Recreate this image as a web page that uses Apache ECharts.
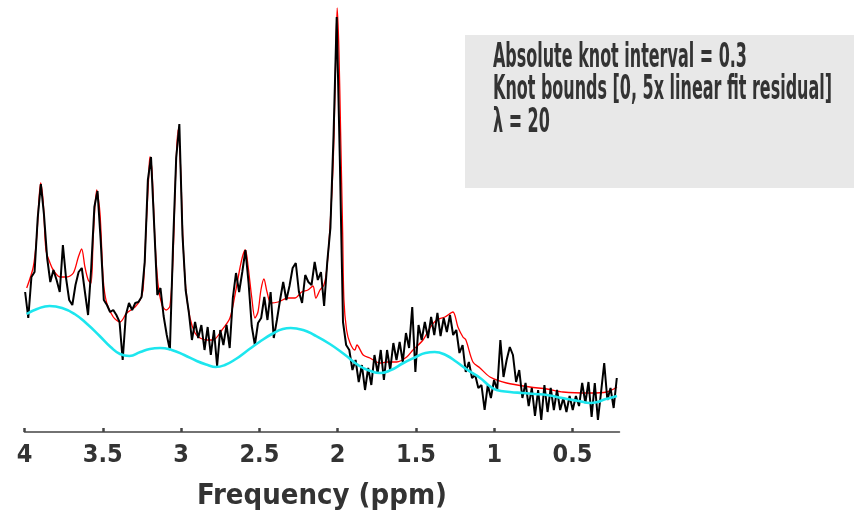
<!DOCTYPE html>
<html>
<head>
<meta charset="utf-8">
<script src="https://cdn.jsdelivr.net/npm/echarts@6/dist/echarts.min.js"></script>
<style>html,body{margin:0;padding:0;background:#fff}#c{width:854px;height:518px}</style>
</head>
<body>
<div id="c"></div>
<script>
// Tick labels (ppm)
const tickValues = [4, 3.5, 3, 2.5, 2, 1.5, 1, 0.5];

// Measured spectrum (black), sampled on a regular ppm grid
const dataStartPpm = 3.996;
const dataStepPpm = 0.0201;
const dataValues = [
140,114,155,160,214,248,217,174,150,162,152,140,187,154,132,127,147,160,164,140,
117,164,225,241,192,132,127,120,122,117,110,72,117,129,122,129,130,135,170,252,
275,207,137,144,116,97,82,187,274,308,197,142,120,92,110,94,107,82,105,77,
102,66,102,87,107,84,134,159,140,160,182,149,106,87,109,114,135,112,140,94,
112,132,150,132,146,164,169,140,129,157,150,147,170,152,160,126,170,204,297,415,
272,110,87,82,62,72,50,67,42,64,47,77,59,82,52,82,62,89,72,90,
70,99,84,125,60,107,92,110,94,115,97,119,96,114,100,117,97,102,79,87,
60,70,54,57,44,47,22,47,34,52,42,92,55,72,85,77,50,62,34,49,
26,44,16,42,12,47,20,44,22,42,22,34,20,36,22,36,26,49,29,50,
15,49,12,40,69,32,44,24,54
];

// Fitted spectrum (red): [ppm, intensity]
const fitPoints = [
[3.986,144],[3.944,165],[3.922,195],[3.897,249],[3.880,229],[3.863,182],[3.837,169],[3.816,162],
[3.773,155],[3.731,155],[3.688,159],[3.656,175],[3.635,183],[3.614,165],[3.593,152],[3.575,149],
[3.561,195],[3.539,242],[3.518,219],[3.497,152],[3.475,129],[3.433,115],[3.390,110],[3.347,119],
[3.294,125],[3.262,132],[3.243,142],[3.224,202],[3.208,252],[3.199,275],[3.186,262],[3.167,192],
[3.148,149],[3.122,127],[3.096,122],[3.071,126],[3.052,172],[3.036,252],[3.020,302],[3.004,267],
[2.988,192],[2.969,142],[2.943,114],[2.911,99],[2.879,94],[2.835,92],[2.796,92],[2.739,102],
[2.688,114],[2.656,137],[2.624,164],[2.605,177],[2.589,182],[2.573,167],[2.549,135],[2.528,114],
[2.509,120],[2.490,142],[2.471,153],[2.451,140],[2.426,129],[2.381,130],[2.317,134],[2.273,134],
[2.230,140],[2.190,142],[2.158,146],[2.139,134],[2.113,142],[2.088,147],[2.070,162],[2.049,205],
[2.028,272],[2.014,362],[2.003,424],[1.992,382],[1.981,299],[1.968,199],[1.960,132],[1.943,102],
[1.921,89],[1.890,82],[1.877,87],[1.837,77],[1.794,74],[1.730,69],[1.685,70],[1.623,70],
[1.559,75],[1.519,82],[1.455,92],[1.411,104],[1.368,112],[1.315,115],[1.264,120],[1.232,105],
[1.200,95],[1.181,92],[1.136,70],[1.091,64],[1.027,55],[0.921,49],[0.772,45],[0.663,43],
[0.561,40],[0.389,39],[0.282,40],[0.216,45]
];

// Baseline (cyan): [ppm, intensity]
const baselinePoints = [
[3.986,118],[3.92,123],[3.84,126],[3.76,124],[3.68,118],[3.6,108],[3.52,96],[3.45,85],
[3.39,78],[3.33,76],[3.26,80],[3.2,83],[3.135,84],[3.06,82],[2.98,77],[2.9,71],
[2.83,67],[2.78,65],[2.72,67],[2.65,73],[2.58,81],[2.5,90],[2.42,98],[2.35,103],
[2.3,104],[2.22,102],[2.15,97],[2.05,88],[1.96,78],[1.86,66],[1.79,61],[1.73,59],
[1.66,62],[1.58,69],[1.5,75],[1.44,79],[1.38,80],[1.31,77],[1.24,70],[1.17,62],
[1.09,54],[1.03,46],[0.985,42],[0.9,40],[0.817,39],[0.74,38],[0.663,37],[0.6,35],
[0.536,33],[0.46,31],[0.389,29],[0.34,30],[0.306,32],[0.26,34],[0.216,36]
];

const annotationLines = [
  'Absolute knot interval = 0.3',
  'Knot bounds [0, 5x linear fit residual]',
  '\u03bb = 20'
];

const dataPoints = dataValues.map((v, i) => [+(dataStartPpm - dataStepPpm * i).toFixed(4), v]);

const FONT = "'Liberation Sans Narrow', 'DejaVu Sans Condensed', 'Open Sans', sans-serif";
const TEXT_COLOR = '#333333';

// horizontal compression for annotation text (mimic a condensed display face)
const ANN_SIZE = 34;
const ctx = document.createElement('canvas').getContext('2d');
ctx.font = 'bold ' + ANN_SIZE + 'px ' + FONT;
const sx = 339 / ctx.measureText(annotationLines[1]).width;

const chart = echarts.init(document.getElementById('c'), null, {renderer: 'canvas'});
chart.setOption({
  animation: false,
  backgroundColor: '#ffffff',
  grid: {left: 24.5, right: 234.5, top: 0, bottom: 86, containLabel: false},
  xAxis: {
    type: 'value',
    inverse: true,
    min: 0.2,
    max: 4,
    name: 'Frequency (ppm)',
    nameLocation: 'middle',
    nameGap: 50,
    nameTextStyle: {fontFamily: FONT, fontWeight: 'bold', fontSize: 29, color: TEXT_COLOR},
    axisLine: {show: true, lineStyle: {color: '#444444', width: 1.5}},
    axisTick: {show: true, inside: true, length: 4, customValues: tickValues, lineStyle: {color: '#444444', width: 2.5}},
    axisLabel: {show: true, customValues: tickValues, margin: 11, fontFamily: FONT, fontWeight: 'bold', fontSize: 25, color: TEXT_COLOR,
      formatter: v => String(v)},
    splitLine: {show: false}
  },
  yAxis: {type: 'value', min: 0, max: 432, show: false},
  series: [
    {type: 'line', name: 'fit', data: fitPoints, showSymbol: false, smooth: 0.3,
      lineStyle: {color: '#ff0000', width: 1.3}, z: 2},
    {type: 'line', name: 'data', data: dataPoints, showSymbol: false,
      lineStyle: {color: '#000000', width: 2}, z: 3},
    {type: 'line', name: 'baseline', data: baselinePoints, showSymbol: false, smooth: true,
      lineStyle: {color: '#1de6ee', width: 2.6}, z: 4}
  ],
  graphic: [
    {type: 'rect', left: 465, top: 35, shape: {width: 389, height: 153}, style: {fill: '#e8e8e8'}, z: 0},
    ...annotationLines.map((t, k) => ({
      type: 'text', x: 493, y: 58 + k * 32.5, scaleX: sx, z: 10,
      style: {text: t, x: 0, y: 0, fill: TEXT_COLOR, font: 'bold ' + ANN_SIZE + 'px ' + FONT,
        align: 'left', verticalAlign: 'middle', textAlign: 'left', textVerticalAlign: 'middle'}
    }))
  ]
});
</script>
</body>
</html>
